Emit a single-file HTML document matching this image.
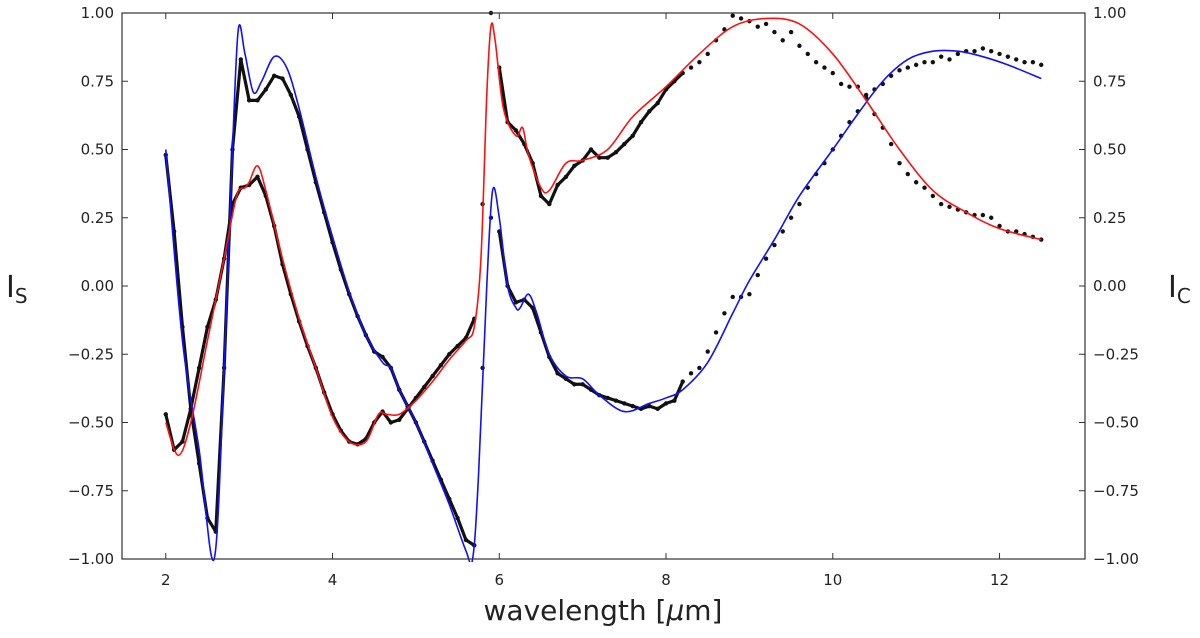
<!DOCTYPE html>
<html><head><meta charset="utf-8"><style>
body{margin:0;background:#fff}
svg text{font-family:"DejaVu Sans","Liberation Sans",sans-serif;fill:#222}
</style></head><body>
<svg id="chart" width="1200" height="633" xmlns="http://www.w3.org/2000/svg">
<g id="marks"></g>
<g id="axes"></g>
</svg>
<script>
const xTicks=[2,4,6,8,10,12];
const yTicks=[-1,-0.75,-0.5,-0.25,0,0.25,0.5,0.75,1];
const yTickLabels=["−1.00","−0.75","−0.50","−0.25","0.00","0.25","0.50","0.75","1.00"];
const modelIsX=[2.0,2.2,2.4,2.58,2.7,2.8,2.87,2.95,3.05,3.15,3.3,3.45,3.6,3.8,4.0,4.2,4.4,4.6,4.7,4.8,5.0,5.2,5.4,5.6,5.68,5.75,5.85,5.92,6.0,6.1,6.2,6.25,6.35,6.45,6.6,6.8,7.0,7.2,7.5,7.8,8.0,8.2,8.5,8.8,9.0,9.3,9.6,10.0,10.3,10.6,10.9,11.2,11.5,11.8,12.1,12.5];
const modelIsY=[0.5,-0.2,-0.6,-1.0,-0.3,0.5,0.94,0.85,0.71,0.75,0.84,0.8,0.65,0.4,0.18,-0.02,-0.18,-0.28,-0.3,-0.38,-0.5,-0.65,-0.8,-0.97,-1.0,-0.7,0.0,0.35,0.25,0.0,-0.08,-0.08,-0.03,-0.1,-0.25,-0.33,-0.34,-0.4,-0.46,-0.43,-0.41,-0.38,-0.28,-0.1,0.02,0.17,0.33,0.5,0.63,0.75,0.83,0.86,0.86,0.84,0.81,0.76];
const modelIcX=[2.0,2.15,2.3,2.5,2.7,2.85,2.95,3.0,3.1,3.2,3.4,3.6,3.8,4.0,4.2,4.4,4.55,4.65,4.8,5.0,5.2,5.4,5.6,5.7,5.78,5.85,5.9,5.95,6.05,6.2,6.28,6.35,6.5,6.6,6.8,7.0,7.3,7.6,8.0,8.4,8.8,9.2,9.6,10.0,10.4,10.8,11.2,11.6,12.0,12.5];
const modelIcY=[-0.5,-0.62,-0.5,-0.2,0.1,0.33,0.36,0.38,0.44,0.35,0.1,-0.12,-0.3,-0.48,-0.57,-0.57,-0.47,-0.47,-0.47,-0.42,-0.35,-0.27,-0.2,-0.15,0.1,0.7,0.95,0.9,0.65,0.55,0.58,0.48,0.36,0.35,0.45,0.46,0.5,0.62,0.73,0.85,0.95,0.98,0.96,0.85,0.68,0.5,0.35,0.27,0.21,0.17];
const dataX=[2.0,2.1,2.2,2.3,2.4,2.5,2.6,2.7,2.8,2.9,3.0,3.1,3.2,3.3,3.4,3.5,3.6,3.7,3.8,3.9,4.0,4.1,4.2,4.3,4.4,4.5,4.6,4.7,4.8,4.9,5.0,5.1,5.2,5.3,5.4,5.5,5.6,5.7,5.8,5.9,6.0,6.1,6.2,6.3,6.4,6.5,6.6,6.7,6.8,6.9,7.0,7.1,7.2,7.3,7.4,7.5,7.6,7.7,7.8,7.9,8.0,8.1,8.2,8.3,8.4,8.5,8.6,8.7,8.8,8.9,9.0,9.1,9.2,9.3,9.4,9.5,9.6,9.7,9.8,9.9,10.0,10.1,10.2,10.3,10.4,10.5,10.6,10.7,10.8,10.9,11.0,11.1,11.2,11.3,11.4,11.5,11.6,11.7,11.8,11.9,12.0,12.1,12.2,12.3,12.4,12.5];
const dataIs=[0.48,0.2,-0.15,-0.45,-0.65,-0.85,-0.9,-0.3,0.5,0.83,0.68,0.68,0.72,0.77,0.76,0.7,0.62,0.5,0.38,0.27,0.16,0.06,-0.03,-0.11,-0.18,-0.24,-0.26,-0.3,-0.38,-0.44,-0.5,-0.57,-0.64,-0.71,-0.78,-0.85,-0.93,-0.95,-0.3,0.25,0.2,0.0,-0.06,-0.05,-0.08,-0.17,-0.26,-0.32,-0.34,-0.36,-0.36,-0.38,-0.4,-0.41,-0.42,-0.43,-0.44,-0.45,-0.44,-0.45,-0.43,-0.42,-0.35,-0.32,-0.3,-0.24,-0.17,-0.1,-0.04,-0.04,-0.03,0.04,0.1,0.15,0.2,0.25,0.3,0.36,0.41,0.45,0.5,0.55,0.6,0.64,0.69,0.72,0.74,0.77,0.79,0.8,0.81,0.82,0.82,0.84,0.83,0.85,0.86,0.86,0.87,0.86,0.85,0.84,0.83,0.82,0.82,0.81];
const dataIc=[-0.47,-0.6,-0.57,-0.45,-0.3,-0.15,-0.05,0.1,0.3,0.36,0.37,0.4,0.33,0.22,0.08,-0.03,-0.13,-0.22,-0.3,-0.39,-0.47,-0.53,-0.57,-0.58,-0.56,-0.5,-0.46,-0.5,-0.49,-0.45,-0.41,-0.37,-0.33,-0.29,-0.25,-0.22,-0.19,-0.12,0.3,1.0,0.8,0.6,0.57,0.52,0.45,0.33,0.3,0.37,0.4,0.44,0.46,0.5,0.47,0.47,0.49,0.52,0.55,0.6,0.64,0.67,0.72,0.75,0.78,0.8,0.82,0.85,0.9,0.94,0.99,0.98,0.97,0.95,0.96,0.93,0.9,0.93,0.88,0.85,0.82,0.8,0.78,0.74,0.73,0.73,0.7,0.63,0.58,0.52,0.45,0.41,0.38,0.36,0.33,0.3,0.29,0.28,0.27,0.26,0.26,0.25,0.22,0.2,0.2,0.19,0.18,0.17];

const L=122,R=1085,T=13,B=559,X0=1.475,X1=13.025;
const sx=v=>L+(v-X0)/(X1-X0)*(R-L);
const sy=v=>B-(v+1)/2*(B-T);
const NS="http://www.w3.org/2000/svg";
const marks=document.getElementById('marks'),axes=document.getElementById('axes');
function mk(tag,attrs,parent){const e=document.createElementNS(NS,tag);for(const k in attrs)e.setAttribute(k,attrs[k]);parent.appendChild(e);return e;}
function smooth(xs,ys){const p=xs.map((x,i)=>[sx(x),sy(ys[i])]);let d=`M${p[0][0]},${p[0][1]}`;
for(let i=0;i<p.length-1;i++){const p0=p[Math.max(0,i-1)],p1=p[i],p2=p[i+1],p3=p[Math.min(p.length-1,i+2)];
d+=` C${p1[0]+(p2[0]-p0[0])/6},${p1[1]+(p2[1]-p0[1])/6} ${p2[0]-(p3[0]-p1[0])/6},${p2[1]-(p3[1]-p1[1])/6} ${p2[0]},${p2[1]}`;}return d;}
const cp=mk('clipPath',{id:'cp'},marks);mk('rect',{x:L,y:T-3,width:R-L,height:B-T+6},cp);
const g=mk('g',{'clip-path':'url(#cp)'},marks);
// dense-data band (short wavelengths where measurements form a near-continuous trace)
function denseTrace(ys,name){
 const xs=[],vs=[];
 dataX.forEach((x,i)=>{if(x<=8.2&&!(x>5.75&&x<5.95)){xs.push(x);vs.push(ys[i]);}});
 let d='';let prev=null;
 xs.forEach((x,i)=>{const gap=prev!==null&&x-prev>0.15;d+=(i===0||gap?'M':'L')+sx(x)+','+sy(vs[i])+' ';prev=x;});
 const p=mk('path',{d:d,fill:'none',stroke:'#111','stroke-width':3.2,'stroke-linejoin':'round','stroke-linecap':'round'},g);
 
 
}
denseTrace(dataIs,'is-data-trace');
denseTrace(dataIc,'ic-data-trace');
dataX.forEach((x,i)=>{
 const a=mk('circle',{cx:sx(x),cy:sy(dataIs[i]),r:2.2,fill:'#111'},g);
 
 
 const b=mk('circle',{cx:sx(x),cy:sy(dataIc[i]),r:2.2,fill:'#111'},g);
 
 
});
const lb=mk('path',{d:smooth(modelIsX,modelIsY),fill:'none',stroke:'#1010ff','stroke-width':1.6},g);


const lr=mk('path',{d:smooth(modelIcX,modelIcY),fill:'none',stroke:'#ff1010','stroke-width':1.6},g);


const fr=mk('rect',{x:L,y:T,width:R-L,height:B-T,fill:'none',stroke:'#333','stroke-width':1.2},axes);


xTicks.forEach(v=>{
 mk('line',{x1:sx(v),x2:sx(v),y1:B,y2:B-6,stroke:'#333'},axes);
 mk('line',{x1:sx(v),x2:sx(v),y1:T,y2:T+6,stroke:'#333'},axes);
 const t=mk('text',{x:sx(v),y:B+26,'text-anchor':'middle','font-size':15},axes);t.textContent=v;
 
 
});
yTicks.forEach((v,i)=>{
 mk('line',{x1:L,x2:L+6,y1:sy(v),y2:sy(v),stroke:'#333'},axes);
 mk('line',{x1:R,x2:R-6,y1:sy(v),y2:sy(v),stroke:'#333'},axes);
 const t=mk('text',{x:L-8,y:sy(v)+5,'text-anchor':'end','font-size':15},axes);t.textContent=yTickLabels[i];
 
 
 const t2=mk('text',{x:R+8,y:sy(v)+5,'font-size':15},axes);t2.textContent=yTickLabels[i];
 
 
});
</script>
<svg style="position:absolute;left:0;top:0" width="1200" height="633">
<text x="603" y="620" text-anchor="middle" font-size="28" style="font-family:'DejaVu Sans',sans-serif" fill="#222">wavelength [<tspan font-style="italic">μ</tspan>m]</text>
<text x="6" y="297" font-size="30" fill="#1010ff" style="font-family:'DejaVu Sans',sans-serif">I<tspan font-size="20" dy="6">S</tspan></text>
<text x="1168" y="297" font-size="30" fill="#ff1010" style="font-family:'DejaVu Sans',sans-serif">I<tspan font-size="20" dy="6">C</tspan></text>
</svg>
</body></html>
